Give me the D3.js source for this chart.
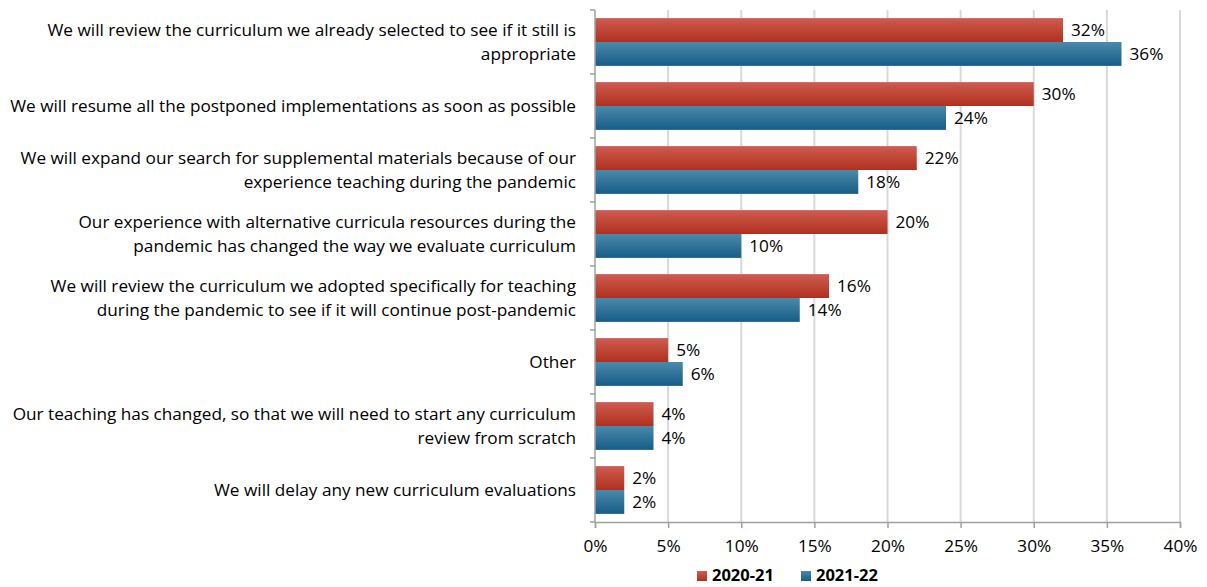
<!DOCTYPE html>
<html>
<head>
<meta charset="utf-8">
<script src="https://cdn.jsdelivr.net/npm/d3@7"></script>
<style>
  body { margin: 0; background: #fff; }
  svg { display: block; font-family: "Open Sans", "Liberation Sans", sans-serif; }
</style>
</head>
<body>
<div id="chart"></div>
<script>
const categories = [
  ["We will review the curriculum we already selected to see if it still is", "appropriate"],
  ["We will resume all the postponed implementations as soon as possible"],
  ["We will expand our search for supplemental materials because of our", "experience teaching during the pandemic"],
  ["Our experience with alternative curricula resources during the", "pandemic has changed the way we evaluate curriculum"],
  ["We will review the curriculum we adopted specifically for teaching", "during the pandemic to see if it will continue post-pandemic"],
  ["Other"],
  ["Our teaching has changed, so that we will need to start any curriculum", "review from scratch"],
  ["We will delay any new curriculum evaluations"]
];
const series2020 = [32, 30, 22, 20, 16, 5, 4, 2];
const series2021 = [36, 24, 18, 10, 14, 6, 4, 2];
const seriesNames = ["2020-21", "2021-22"];
const xTicks = [0, 5, 10, 15, 20, 25, 30, 35, 40];

const width = 1207, height = 587;
const margin = { left: 595, right: 27, top: 10, bottom: 65 };
const fs = 17.2;

const svg = d3.select("#chart").append("svg")
  .attr("width", width)
  .attr("height", height);

const defs = svg.append("defs");
function grad(id, top, bottom) {
  const g = defs.append("linearGradient").attr("id", id)
    .attr("x1", 0).attr("y1", 0).attr("x2", 0).attr("y2", 1);
  g.append("stop").attr("offset", "0%").attr("stop-color", top);
  g.append("stop").attr("offset", "100%").attr("stop-color", bottom);
}
grad("gRed", "#cc5e51", "#b22f1d");
grad("gBlue", "#4b89ab", "#165d86");

const x = d3.scaleLinear().domain([0, 40]).range([margin.left, width - margin.right]);
const y = d3.scaleBand().domain(d3.range(categories.length))
  .range([margin.top, height - margin.bottom]);
const inner = d3.scaleBand().domain([0, 1]).range([0, y.bandwidth()]).paddingOuter(0.34);

// gridlines
svg.append("g").selectAll("line")
  .data(xTicks.slice(1))
  .join("line")
  .attr("x1", d => x(d)).attr("x2", d => x(d))
  .attr("y1", margin.top).attr("y2", height - margin.bottom)
  .attr("stroke", "#d9d9d9").attr("stroke-width", 2);

// bars
const groups = svg.append("g").selectAll("g")
  .data(categories.map((c, i) => ({ i, vals: [series2020[i], series2021[i]] })))
  .join("g")
  .attr("transform", d => `translate(0,${y(d.i)})`);

groups.selectAll("rect")
  .data(d => d.vals.map((v, k) => ({ v, k })))
  .join("rect")
  .attr("x", x(0))
  .attr("y", d => inner(d.k))
  .attr("width", d => x(d.v) - x(0))
  .attr("height", inner.bandwidth())
  .attr("fill", d => d.k === 0 ? "url(#gRed)" : "url(#gBlue)");

groups.selectAll("text.val")
  .data(d => d.vals.map((v, k) => ({ v, k })))
  .join("text")
  .attr("class", "val")
  .attr("x", d => x(d.v) + 8)
  .attr("y", d => inner(d.k) + inner.bandwidth() / 2)
  .attr("dy", "0.36em")
  .attr("font-size", fs)
  .attr("fill", "#000")
  .text(d => d.v + "%");

// category labels
const lab = svg.append("g").selectAll("text")
  .data(categories.map((c, i) => ({ c, i })))
  .join("text")
  .attr("text-anchor", "end")
  .attr("font-size", fs)
  .attr("fill", "#000")
  .attr("x", 576)
  .attr("y", d => y(d.i) + y.bandwidth() / 2);
lab.selectAll("tspan")
  .data(d => d.c.map((t, j) => ({ t, j, n: d.c.length })))
  .join("tspan")
  .attr("x", 576)
  .attr("dy", d => d.j === 0 ? ((0.36 - (d.n - 1) * 0.68) + "em") : "1.36em")
  .text(d => d.t);

// y axis line and ticks
svg.append("line")
  .attr("x1", x(0)).attr("x2", x(0))
  .attr("y1", margin.top).attr("y2", height - margin.bottom)
  .attr("stroke", "#a0a0a0").attr("stroke-width", 1.5);
svg.append("g").selectAll("line")
  .data(d3.range(categories.length + 1))
  .join("line")
  .attr("x1", x(0) - 5).attr("x2", x(0))
  .attr("y1", d => margin.top + d * y.step())
  .attr("y2", d => margin.top + d * y.step())
  .attr("stroke", "#a0a0a0").attr("stroke-width", 1.5);

// x axis
const xAxis = svg.append("g")
  .attr("transform", `translate(0,${height - margin.bottom})`)
  .call(d3.axisBottom(x).tickValues(xTicks).tickFormat(d => d + "%").tickSize(6).tickPadding(12));
xAxis.select(".domain").attr("stroke", "#a0a0a0").attr("stroke-width", 1.5);
xAxis.selectAll(".tick line").attr("stroke", "#a0a0a0").attr("stroke-width", 1.5);
xAxis.selectAll(".tick text").attr("font-size", fs).attr("fill", "#000")
  .attr("font-family", "'Open Sans', 'Liberation Sans', sans-serif");

// legend
const legend = svg.append("g").attr("transform", "translate(697,575)");
const legX = [0, 104];
seriesNames.forEach((name, k) => {
  const g = legend.append("g").attr("transform", `translate(${legX[k]},0)`);
  g.append("rect").attr("x", 0).attr("y", -4).attr("width", 10).attr("height", 10)
    .attr("fill", k === 0 ? "url(#gRed)" : "url(#gBlue)");
  g.append("text").attr("x", 15).attr("dy", "0.36em")
    .attr("font-size", 16.5).attr("font-weight", "bold").text(name);
});
</script>
</body>
</html>
